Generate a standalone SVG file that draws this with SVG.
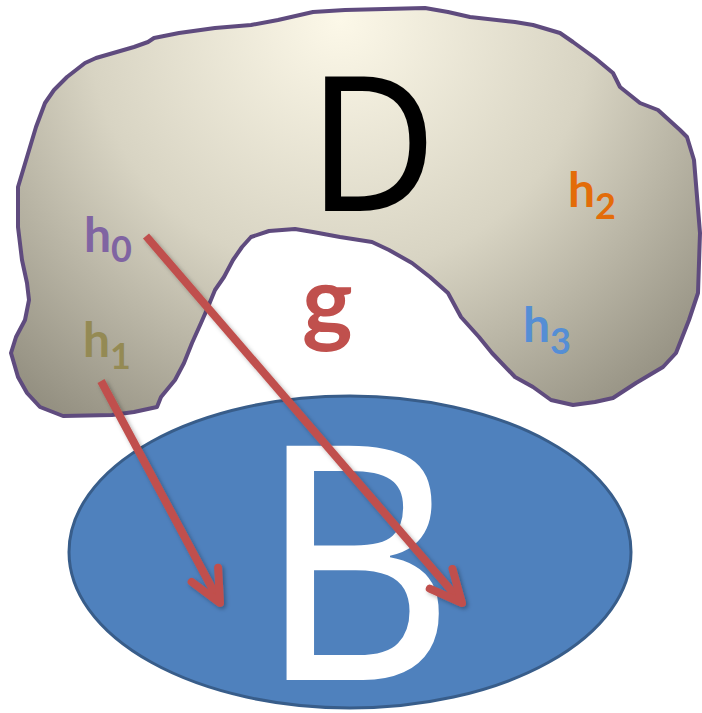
<svg xmlns="http://www.w3.org/2000/svg" width="702" height="713" viewBox="0 0 702 713">
<style>
.lbl{font-family:"Lato","Noto Sans",sans-serif;font-weight:bold}
.big{font-family:"Noto Sans","Open Sans",sans-serif}
.arrow{fill:none;stroke:#C0504D;stroke-width:8;filter:url(#sh)}
</style>
<defs>
<radialGradient id="gD" gradientUnits="userSpaceOnUse" cx="340" cy="20" r="560">
<stop offset="0" stop-color="#FCF8E8"/>
<stop offset="0.45" stop-color="#D8D4C3"/>
<stop offset="1" stop-color="#7E7A6C"/>
</radialGradient>
<marker id="ah" markerUnits="userSpaceOnUse" orient="auto" markerWidth="60" markerHeight="60" refX="0" refY="0" viewBox="-40 -30 60 60" overflow="visible">
<path d="M -32 -15 L 0 0 L -32 15" fill="none" stroke="#C0504D" stroke-width="8" stroke-linecap="round" stroke-linejoin="round"/>
</marker>
<filter id="sh" x="-20%" y="-20%" width="140%" height="140%">
<feDropShadow dx="2" dy="2" stdDeviation="2" flood-color="#000" flood-opacity="0.3"/>
</filter>
</defs>
<g id="D">
<path d="M 67 77 L 85 63 L 96 58 L 134 47 L 148 42 L 154 38 L 179 33 L 215 28 L 251 25 L 278 20 L 313 12 L 345 10 L 425 8 L 448 12 L 470 17 L 515 22 L 533 25 L 560 33 L 573 42 L 595 58 L 613 73 L 620 87 L 640 103 L 658 110 L 680 130 L 687 137 L 694 160 L 700 233 L 698 293 L 689 320 L 676 353 L 663 367 L 636 383 L 613 398 L 595 402 L 573 405 L 551 400 L 533 387 L 515 377 L 492 353 L 479 337 L 461 317 L 448 293 L 430 277 L 412 263 L 389 250 L 372 242 L 340 237 L 313 232 L 295 229 L 269 231 L 251 237 L 242 247 L 233 260 L 224 277 L 215 290 L 208 307 L 201 323 L 192 343 L 184 363 L 175 380 L 161 397 L 157 407 L 134 412 L 112 415 L 63 416 L 40 407 L 27 393 L 18 377 L 11 353 L 16 337 L 25 320 L 29 300 L 27 283 L 22 260 L 18 227 L 18 187 L 27 157 L 36 127 L 45 103 L 54 90 Z" fill="url(#gD)" stroke="#5F4B7E" stroke-width="4" stroke-linejoin="round"/>
<text class="big" transform="translate(308 211) scale(0.94 1)" x="0" y="0" font-size="188" fill="#000">D</text>
</g>
<g id="h0"><text class="lbl" x="84" y="252" font-size="48" fill="#8064A2">h<tspan font-size="36" dy="10">0</tspan></text></g>
<g id="h1"><text class="lbl" x="83" y="357" font-size="48" fill="#948A54">h<tspan font-size="36" dy="12">1</tspan></text></g>
<g id="h2"><text class="lbl" x="568" y="207" font-size="48" fill="#E36C09">h<tspan font-size="36" dy="12">2</tspan></text></g>
<g id="h3"><text class="lbl" x="523" y="342" font-size="48" fill="#558ED5">h<tspan font-size="36" dy="12">3</tspan></text></g>
<g id="g"><text class="lbl" x="302" y="335" font-size="96" fill="#C0504D">g</text></g>
<g id="B">
<ellipse cx="350" cy="552" rx="281" ry="156" fill="#4F81BD" stroke="#385D8A" stroke-width="3"/>
<text class="big" transform="translate(257 680) scale(0.93 1)" x="0" y="0" font-size="328" fill="#FFFFFF">B</text>
</g>
<g id="connectors">
<line class="arrow" x1="146" y1="236" x2="462" y2="603" marker-end="url(#ah)"/>
<line class="arrow" x1="101" y1="381" x2="220" y2="603" marker-end="url(#ah)"/>
</g>
</svg>
